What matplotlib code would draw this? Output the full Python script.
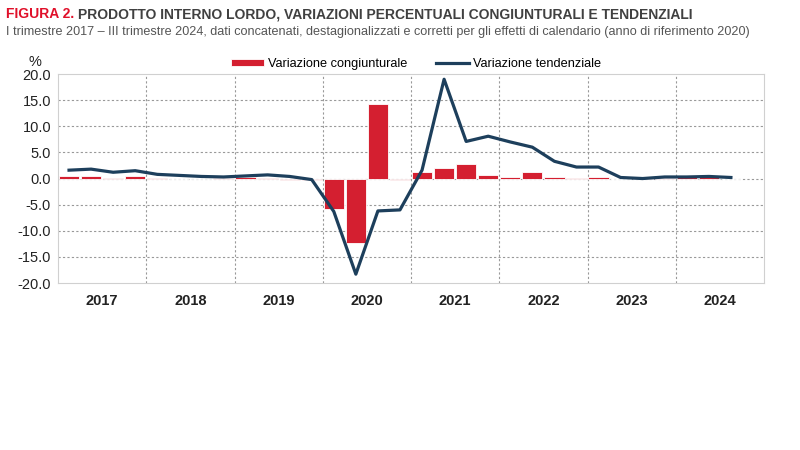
import matplotlib
matplotlib.use("Agg")
import matplotlib.pyplot as plt
import numpy as np

plt.rcParams['font.family'] = ['Liberation Sans', 'DejaVu Sans']

years = ['2017', '2018', '2019', '2020', '2021', '2022', '2023', '2024']
# Quarterly data, I trim. 2017 - III trim. 2024
congiunturale = [0.4, 0.4, 0.1, 0.4,
                 0.1, 0.0, -0.1, 0.1,
                 0.2, 0.1, -0.3, -0.3,
                 -5.8, -12.3, 14.2, -0.2,
                 1.3, 2.1, 2.8, 0.7,
                 0.2, 1.2, 0.3, 0.1,
                 0.2, -0.1, 0.2, 0.1,
                 0.3, 0.2, 0.0]
tendenziale = [1.6, 1.8, 1.2, 1.5,
               0.8, 0.6, 0.4, 0.3,
               0.5, 0.7, 0.4, -0.2,
               -6.3, -18.3, -6.2, -6.0,
               1.6, 19.0, 7.1, 8.1,
               7.0, 6.0, 3.3, 2.2,
               2.2, 0.2, 0.0, 0.3,
               0.3, 0.4, 0.2]
yticks = [-20, -15, -10, -5, 0, 5, 10, 15, 20]

red = '#d41f30'
navy = '#1d3f5c'

fig = plt.figure(figsize=(8, 4.5), dpi=100)
ax = fig.add_axes([0.0725, 0.371, 0.8825, 0.4645])

x = np.arange(len(congiunturale))
bars = ax.bar(x, congiunturale, width=0.92, color=red, edgecolor='white', linewidth=0.6,
              label='Variazione congiunturale', zorder=3)
line, = ax.plot(x, tendenziale, color=navy, linewidth=2.3, label='Variazione tendenziale', zorder=4)

ax.set_xlim(-0.5, 4 * len(years) - 0.5)
ax.set_ylim(-20, 20)
ax.set_yticks(yticks)
ax.set_yticklabels([f'{v:.1f}' for v in yticks], fontsize=10.5, color='#222222')

bounds = [4 * i - 0.5 for i in range(1, len(years))]
for b in bounds:
    ax.axvline(b, color='#999999', linestyle=(0, (2, 2)), linewidth=0.8, zorder=1)
for v in yticks[1:-1]:
    ax.axhline(v, color='#999999', linestyle=(0, (2, 2)), linewidth=0.8, zorder=1)

ax.set_xticks([4 * i + 1.5 for i in range(len(years))])
ax.set_xticklabels(years, fontsize=10.5, fontweight='bold', color='#222222')
ax.tick_params(axis='both', length=0)
ax.tick_params(axis='x', pad=8)
ax.tick_params(axis='y', pad=5)
for s in ax.spines.values():
    s.set_color('#d0d0d0')
    s.set_linewidth(0.8)

ax.text(-0.032, 1.025, '%', transform=ax.transAxes, fontsize=10.5, color='#222222',
        ha='center', va='bottom')

leg = ax.legend([bars, line], ['Variazione congiunturale', 'Variazione tendenziale'],
                loc='lower center', bbox_to_anchor=(0.507, 0.995), ncol=2, frameon=False,
                fontsize=9.2, handlelength=2.6, handleheight=0.55, columnspacing=2.2,
                borderaxespad=0.0, handletextpad=0.3)

# Title
t1 = fig.text(0.008, 0.968, 'FIGURA 2.', fontsize=10.0, fontweight='bold', color='#e0102a',
              ha='left', va='center')
fig.canvas.draw()
bb = t1.get_window_extent(renderer=fig.canvas.get_renderer())
x2 = (bb.x1 + 3) / fig.bbox.width
fig.text(x2, 0.968, 'PRODOTTO INTERNO LORDO, VARIAZIONI PERCENTUALI CONGIUNTURALI E TENDENZIALI',
         fontsize=10.0, fontweight='bold', color='#404040', ha='left', va='center')
fig.text(0.008, 0.928,
         'I trimestre 2017 \u2013 III trimestre 2024, dati concatenati, destagionalizzati e corretti per gli effetti di calendario (anno di riferimento 2020)',
         fontsize=9.1, color='#555555', ha='left', va='center')

fig.savefig('out.png', dpi=100, facecolor='white')
